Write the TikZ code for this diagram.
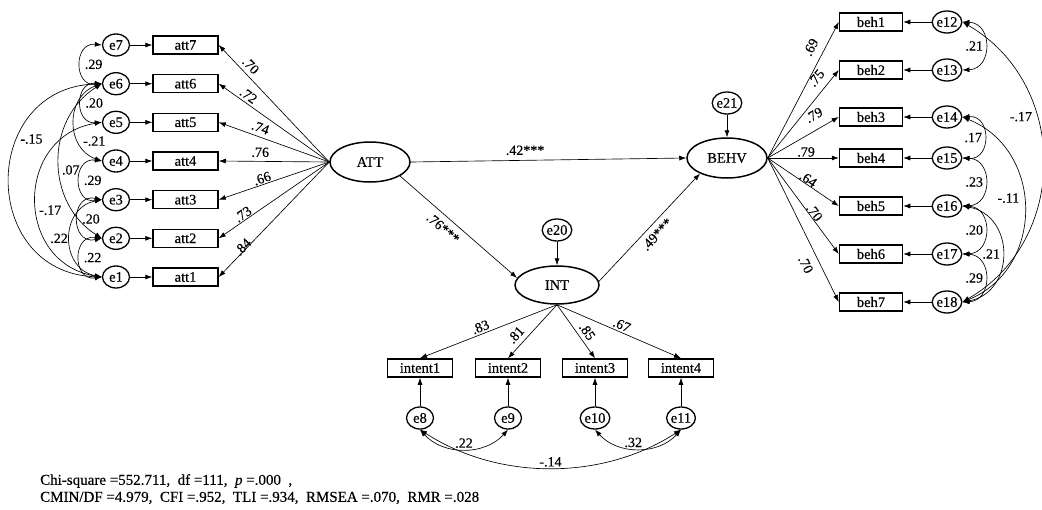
\documentclass[tikz,border=0pt]{standalone}
\usepackage{fontspec}
\setmainfont{Liberation Serif}[FakeBold=0.35]
\newfontfamily\amos{Liberation Serif}[FakeBold=0.35]
\usetikzlibrary{arrows.meta,shapes.geometric}
\begin{document}
\begin{tikzpicture}[x=1pt,y=1pt,
  every node/.style={font=\amos\fontsize{14.5}{16}\selectfont},
  err/.style={ellipse,draw,line width=1.3pt,minimum width=27pt,minimum height=22pt,inner sep=0pt},
  obs/.style={rectangle,draw,line width=1.5pt,minimum width=65pt,minimum height=18pt,inner sep=0pt},
  lat/.style={ellipse,draw,line width=1.5pt,minimum width=80pt,minimum height=40pt,inner sep=0pt},
  pth/.style={line width=0.65pt,-{Latex[length=7pt,width=5pt]}},
  cov/.style={line width=0.65pt,{Latex[length=7pt,width=5pt]}-{Latex[length=7pt,width=5pt]}},
  lab/.style={inner sep=1pt,font=\amos\fontsize{14}{15}\selectfont}
]
\useasboundingbox (0,0) rectangle (1042,-509);

% left block
\foreach \i/\y in {7/45,6/83.7,5/122.3,4/161,3/199.7,2/238.3,1/277}{
  \node[err] (e\i) at (116,-\y) {e\i};
  \node[obs] (att\i) at (185.5,-\y) {att\i};
  \draw[pth] (e\i) -- (att\i);
}
\node[lat] (ATT) at (370,-162) {ATT};
\node[lat] (BEHV) at (727,-158) {BEHV};
\node[lat,minimum width=84pt,minimum height=38pt] (INT) at (557,-285) {INT};
\node[err] (e21) at (727,-103) {e21};
\node[err] (e20) at (557,-230) {e20};
\draw[pth] (e21) -- (BEHV);
\draw[pth] (e20) -- (INT);

% loadings ATT
\draw[pth] (ATT.west) -- node[lab,sloped,pos=0.77,above=3pt]{.70} (att7.east);
\draw[pth] (ATT.west) -- node[lab,sloped,pos=0.77,above=1.5pt]{.72} (att6.east);
\draw[pth] (ATT.west) -- node[lab,sloped,pos=0.65,above=3pt]{.74} (att5.east);
\draw[pth] (ATT.west) -- node[lab,sloped,pos=0.625,above=3pt]{.76} (att4.east);
\draw[pth] (ATT.west) -- node[lab,sloped,pos=0.59,above=0pt]{.66} (att3.east);
\draw[pth] (ATT.west) -- node[lab,sloped,pos=0.75,above=0pt]{.73} (att2.east);
\draw[pth] (ATT.west) -- node[lab,sloped,pos=0.76,above=-2.5pt]{.84} (att1.east);

% structural
\draw[pth] (ATT.east) -- node[lab,pos=0.415,above=4pt]{.42***} (BEHV.west);
\draw[pth] (ATT.-25) -- node[lab,sloped,pos=0.43,below=5pt]{.76***} (INT.170);
\draw[pth] (INT.5) -- node[lab,sloped,pos=0.5,below=4pt]{.49***} (BEHV.210);

% intent block
\foreach \i/\n/\x in {1/8/420,2/9/508,3/10/595,4/11/681}{
  \node[obs] (intent\i) at (\x,-368) {intent\i};
  \node[err] (e\n) at (\x,-418) {e\n};
  \draw[pth] (e\n) -- (intent\i);
}
\draw[pth] (INT.south) -- node[lab,sloped,pos=0.54,above=1pt]{.83} (intent1.north);
\draw[pth] (INT.south) -- node[lab,sloped,pos=0.69,above=4pt]{.81} (intent2.north);
\draw[pth] (INT.south) -- node[lab,sloped,pos=0.60,above=3pt]{.85} (intent3.north);
\draw[pth] (INT.south) -- node[lab,sloped,pos=0.50,above=1pt]{.67} (intent4.north);

% behaviour block
\foreach \i/\n/\y in {1/12/22,2/13/70,3/14/117,4/15/158,5/16/206,6/17/254,7/18/302}{
  \node[obs,minimum width=63pt] (beh\i) at (871,-\y) {beh\i};
  \node[err,minimum width=28pt] (e\n) at (947,-\y) {e\n};
  \draw[pth] (e\n) -- (beh\i);
}
\draw[pth] (BEHV.east) -- node[lab,sloped,pos=0.77,above=7pt]{.69} (beh1.west);
\draw[pth] (BEHV.east) -- node[lab,sloped,pos=0.82,above=6.5pt]{.75} (beh2.west);
\draw[pth] (BEHV.east) -- node[lab,sloped,pos=0.75,above=8pt]{.79} (beh3.west);
\draw[pth] (BEHV.east) -- node[lab,sloped,pos=0.54,above=0pt]{.79} (beh4.west);
\draw[pth] (BEHV.east) -- node[lab,sloped,pos=0.53,above=-1pt]{.64} (beh5.west);
\draw[pth] (BEHV.east) -- node[lab,sloped,pos=0.60,above=-1pt]{.70} (beh6.west);
\draw[pth] (BEHV.east) -- node[lab,sloped,pos=0.70,below=7pt]{.70} (beh7.west);

% covariances left
\draw[cov] (e7.west) to[bend right=96,looseness=1.89] node[lab,pos=0.5,right=3pt]{.29} (e6.west);
\draw[cov] (e6.west) to[bend right=94,looseness=1.84] node[lab,pos=0.5,right=3pt]{.20} (e5.west);
\draw[cov] (e6.west) to[bend right=71,looseness=1.28] node[lab,pos=0.7,right=3pt]{-.21} (e4.west);
\draw[cov] (e6.west) to[bend right=58,looseness=1.11] node[lab,pos=0.55,right=1pt]{.07} (e2.west);
\draw[cov] (e6.west) to[bend right=88,looseness=1.63] node[lab,pos=0.35,right=1pt]{-.15} (e1.west);
\draw[cov] (e5.west) to[bend right=81,looseness=1.47] node[lab,pos=0.55,right=1pt]{-.17} (e1.west);
\draw[cov] (e4.west) to[bend right=98,looseness=1.98] node[lab,pos=0.5,right=3pt]{.29} (e3.west);
\draw[cov] (e3.west) to[bend right=102,looseness=2.17] node[lab,pos=0.5,right=3pt]{.20} (e2.west);
\draw[cov] (e3.west) to[bend right=79,looseness=1.43] node[lab,pos=0.5,left=1pt]{.22} (e1.west);
\draw[cov] (e2.west) to[bend right=98,looseness=1.99] node[lab,pos=0.5,right=3pt]{.22} (e1.west);

% covariances right
\draw[cov] (e12.east) to[bend left=88,looseness=1.63] node[lab,pos=0.5,left=1pt]{.21} (e13.east);
\draw[cov] (e14.east) to[bend left=94,looseness=1.83] node[lab,pos=0.5,left=1pt]{.17} (e15.east);
\draw[cov] (e15.east) to[bend left=88,looseness=1.63] node[lab,pos=0.5,left=1pt]{.23} (e16.east);
\draw[cov] (e16.east) to[bend left=88,looseness=1.63] node[lab,pos=0.5,left=1pt]{.20} (e17.east);
\draw[cov] (e17.east) to[bend left=88,looseness=1.63] node[lab,pos=0.5,left=1pt]{.29} (e18.east);
\draw[cov] (e16.east) to[bend left=80,looseness=1.44] node[lab,pos=0.5,left=1pt]{.21} (e18.east);
\draw[cov] (e14.east) to[bend left=68,looseness=1.23] node[lab,pos=0.45,left=3pt]{-.11} (e18.east);
\draw[cov] (e12.east) to[bend left=60,looseness=1.13] node[lab,pos=0.36,left=3pt]{-.17} (e18.east);

% covariances bottom
\draw[cov] (e8.south) to[bend right=48,looseness=1.02] node[lab,pos=0.5,above=0pt]{.22} (e9.south);
\draw[cov] (e10.south) to[bend right=48,looseness=1.02] node[lab,pos=0.45,above=0pt]{.32} (e11.south);
\draw[cov] (e8.south) to[bend right=33,looseness=0.92] node[lab,pos=0.5,above=0pt]{-.14} (e11.south);

% fit statistics
\node[anchor=north west,align=left,inner sep=0pt,font=\amos\fontsize{15}{17}\selectfont] (fit) at (40,-474)
  {Chi-square =552.711,\ \ df =111,\ \ \textit{p} =.000\ \ ,\\
   CMIN/DF =4.979,\ \ CFI =.952,\ \ TLI =.934,\ \ RMSEA =.070,\ \ RMR =.028};
\end{tikzpicture}
\end{document}
